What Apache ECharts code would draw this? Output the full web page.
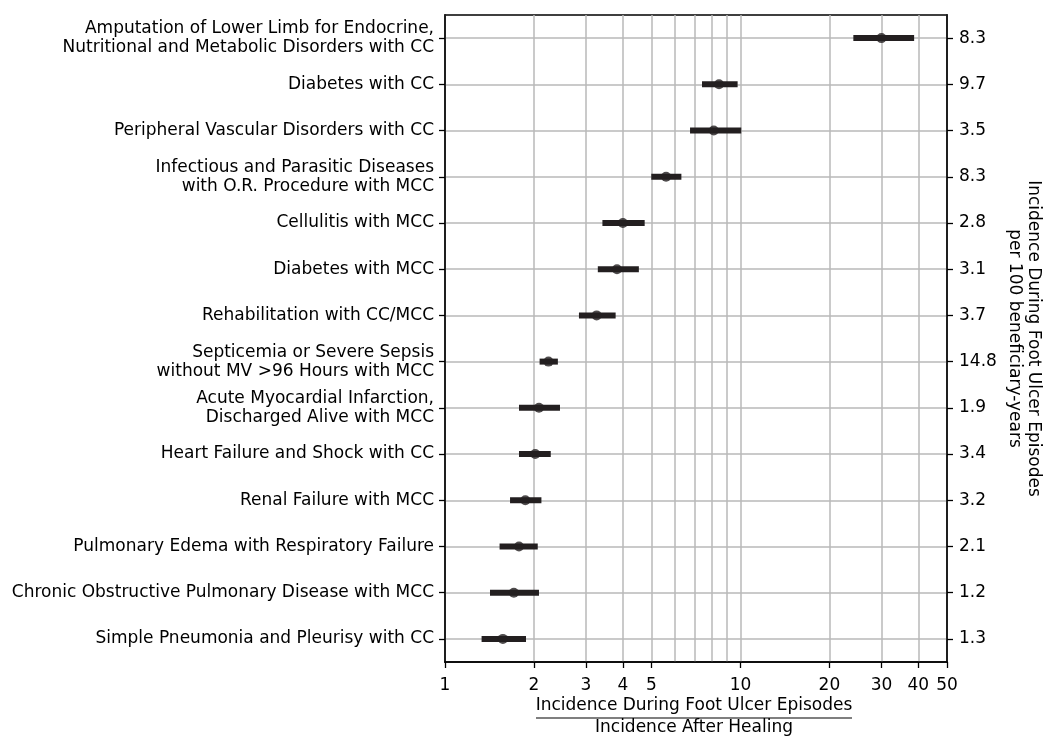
<!DOCTYPE html>
<html>
<head>
<meta charset="utf-8">
<script src="https://cdn.jsdelivr.net/npm/echarts@6/dist/echarts.min.js"></script>
<style>html,body{margin:0;padding:0;background:#fff}#c{width:1050px;height:748px}</style>
</head>
<body>
<div id="c"></div>
<script>
const categories = [
  "Amputation of Lower Limb for Endocrine,\nNutritional and Metabolic Disorders with CC",
  "Diabetes with CC",
  "Peripheral Vascular Disorders with CC",
  "Infectious and Parasitic Diseases\nwith O.R. Procedure with MCC",
  "Cellulitis with MCC",
  "Diabetes with MCC",
  "Rehabilitation with CC/MCC",
  "Septicemia or Severe Sepsis\nwithout MV >96 Hours with MCC",
  "Acute Myocardial Infarction,\nDischarged Alive with MCC",
  "Heart Failure and Shock with CC",
  "Renal Failure with MCC",
  "Pulmonary Edema with Respiratory Failure",
  "Chronic Obstructive Pulmonary Disease with MCC",
  "Simple Pneumonia and Pleurisy with CC"
];
const ratio   = [30.0, 8.46, 8.12, 5.60, 4.00, 3.82, 3.26, 2.24, 2.08, 2.02, 1.87, 1.78, 1.71, 1.57];
const ciLow   = [24.1, 7.41, 6.75, 4.99, 3.41, 3.29, 2.84, 2.09, 1.78, 1.78, 1.66, 1.53, 1.42, 1.33];
const ciHigh  = [38.7, 9.78, 10.06, 6.31, 4.74, 4.53, 3.78, 2.41, 2.45, 2.28, 2.12, 2.06, 2.08, 1.88];
const incidenceLabels = ["8.3","9.7","3.5","8.3","2.8","3.1","3.7","14.8","1.9","3.4","3.2","2.1","1.2","1.3"];
const gridValues  = [1,2,3,4,5,6,7,8,9,10,20,30,40,50];
const tickValues  = [1,2,3,4,5,10,20,30,40,50];

const FONT = "DejaVu Sans";
const FS = 17;
const INK = "#231f20";
const rowIdx = categories.map((c, i) => i);

const chart = echarts.init(document.getElementById('c'), null, {renderer:'canvas'});
const option = {
  animation: false,
  backgroundColor: '#fff',
  textStyle: {fontFamily: FONT},
  grid: {left: 445, right: 103, top: 15, bottom: 86, outerBoundsMode: 'none', containLabel: false,
         show: true, borderColor: '#000', borderWidth: 1.6, backgroundColor: 'transparent'},
  xAxis: [{
    type: 'log', logBase: 10, min: 1, max: 50, position: 'bottom',
    axisLine: {show: true, onZero: false, lineStyle: {color: '#000', width: 1.6}},
    axisTick: {show: false, customValues: gridValues},
    axisLabel: {show: false},
    splitLine: {show: true, lineStyle: {color: '#b8b8b8', width: 1.5}},
    minorSplitLine: {show: false}
  }, {
    type: 'log', logBase: 10, min: 1, max: 50, position: 'bottom', gridIndex: 0,
    axisLine: {show: false, onZero: false},
    axisTick: {show: true, length: 6, inside: false, customValues: tickValues, lineStyle: {color: '#000', width: 1.3}},
    axisLabel: {show: true, customValues: tickValues, color: '#000', fontSize: FS, fontFamily: FONT, margin: 15,
      formatter: v => String(Math.round(v))},
    splitLine: {show: false}
  }],
  yAxis: [{
    type: 'value', min: -0.5, max: 13.5, inverse: true, position: 'left',
    axisLine: {show: true, onZero: false, lineStyle: {color: '#000', width: 1.6}},
    axisTick: {show: true, length: 6, customValues: rowIdx, lineStyle: {color: '#000', width: 1.3}},
    axisLabel: {customValues: rowIdx, color: '#000', fontSize: FS, fontFamily: FONT, margin: 11, lineHeight: 19, align: 'right',
      formatter: v => categories[Math.round(v)]},
    splitLine: {show: true, lineStyle: {color: '#b8b8b8', width: 1.5}}
  }, {
    type: 'value', min: -0.5, max: 13.5, inverse: true, position: 'right',
    axisLine: {show: true, onZero: false, lineStyle: {color: '#000', width: 1.6}},
    axisTick: {show: true, length: 6, customValues: rowIdx, lineStyle: {color: '#000', width: 1.3}},
    axisLabel: {customValues: rowIdx, color: '#000', fontSize: FS, fontFamily: FONT, margin: 12,
      formatter: v => incidenceLabels[Math.round(v)]},
    splitLine: {show: false},
    name: 'Incidence During Foot Ulcer Episodes\nper 100 beneficiary-years',
    nameLocation: 'middle', nameRotate: -90, nameGap: 58,
    nameTextStyle: {color: '#000', fontSize: FS, fontFamily: FONT, lineHeight: 19}
  }],
  series: [{
    type: 'custom',
    xAxisIndex: 0, yAxisIndex: 0,
    data: rowIdx.map(i => [ciLow[i], ciHigh[i], i]),
    encode: {x: [0, 1], y: 2},
    renderItem: (params, api) => {
      const a = api.coord([api.value(0), api.value(2)]);
      const b = api.coord([api.value(1), api.value(2)]);
      return {type: 'line', shape: {x1: a[0], y1: a[1], x2: b[0], y2: b[1]},
        style: {stroke: INK, lineWidth: 6, lineCap: 'butt'}};
    },
    z: 3
  }, {
    type: 'scatter',
    xAxisIndex: 0, yAxisIndex: 0,
    data: rowIdx.map(i => [ratio[i], i]),
    symbol: 'circle', symbolSize: 10,
    itemStyle: {color: INK},
    z: 4
  }],
  graphic: [
    {type: 'text', style: {text: 'Incidence During Foot Ulcer Episodes', x: 694, y: 706, align: 'center', verticalAlign: 'middle', fill: '#000', font: FS + 'px "DejaVu Sans"'}},
    {type: 'line', shape: {x1: 536, y1: 718, x2: 852, y2: 718}, style: {stroke: '#000', lineWidth: 1.2}},
    {type: 'text', style: {text: 'Incidence After Healing', x: 694, y: 728, align: 'center', verticalAlign: 'middle', fill: '#000', font: FS + 'px "DejaVu Sans"'}}
  ]
};
chart.setOption(option);
</script>
</body>
</html>
